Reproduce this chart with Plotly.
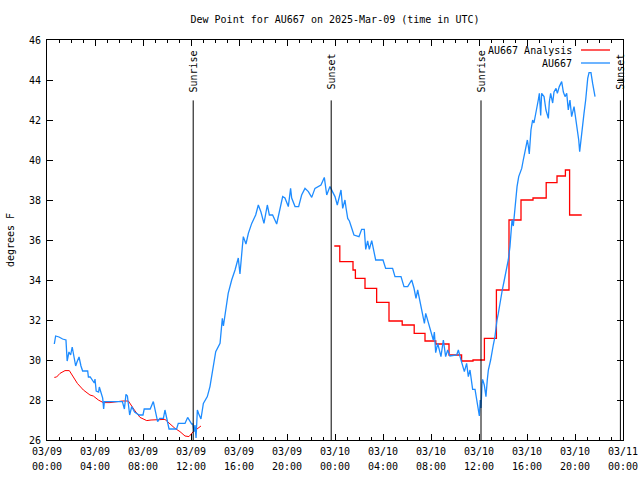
import plotly.graph_objects as go
from datetime import datetime, timedelta

BASE = datetime(2025, 3, 9)

# Observations (hours since 2025-03-09 00:00 UTC, dew point F)
obs_hours = [0.61, 0.72, 1.0, 1.3, 1.58, 1.68, 1.83, 1.97, 2.1, 2.39, 2.5, 2.67, 2.83, 2.97, 3.39, 3.45, 3.6,
             3.94, 4.0, 4.1, 4.3, 4.36, 4.64, 4.72, 4.78, 6.28, 6.45, 6.58, 6.7, 6.89, 7.06, 7.3, 7.67, 8.0,
             8.1, 8.6, 8.86, 9.22, 9.4, 9.7, 9.83, 10.06, 10.17, 10.8, 10.94, 11.5, 11.72, 12.06, 12.15,
             12.25, 12.33, 12.42, 12.53, 12.65, 12.83, 13.03, 13.36, 13.58, 13.78, 14.06, 14.42, 14.61, 14.7,
             14.92, 15.1, 15.39, 15.67, 15.94, 16.08, 16.28, 16.36, 16.58, 16.78, 17.06, 17.39, 17.61, 17.83,
             18.08, 18.36, 18.53, 18.8, 19.14, 19.36, 19.64, 19.83, 20.11, 20.3, 20.39, 20.67, 20.97, 21.22,
             21.5, 21.78, 22.06, 22.33, 22.61, 22.83, 23.11, 23.31, 23.58, 23.78, 24.0, 24.19, 24.42, 24.5,
             24.64, 24.83, 24.92, 25.06, 25.2, 25.39, 25.58, 26.0, 26.22, 26.44, 26.56, 26.72, 26.86, 27.06,
             27.19, 27.39, 28.0, 28.22, 28.8, 29.0, 29.5, 29.75, 30.06, 30.39, 30.58, 30.75, 30.89, 31.14,
             31.31, 31.45, 31.56, 31.78, 32.0, 32.19, 32.28, 32.39, 32.56, 32.83, 33.03, 33.22, 33.39, 33.58,
             34.14, 34.28, 34.42, 34.61, 34.78, 34.97, 35.11, 35.25, 35.33, 35.47, 35.67, 35.81, 35.94, 36.03,
             36.1, 36.17, 36.25, 36.3, 36.44, 36.58, 36.69, 36.78, 36.97, 37.08, 37.19, 37.33, 37.42, 37.5,
             37.61, 37.81, 37.94, 38.11, 38.31, 38.44, 38.58, 38.67, 38.75, 38.86, 38.94, 39.06, 39.17, 39.31,
             39.42, 39.56, 39.69, 39.89, 40.03, 40.11, 40.19, 40.33, 40.47, 40.58, 40.81, 40.94, 41.03, 41.14,
             41.22, 41.42, 41.58, 41.78, 41.86, 41.97, 42.14, 42.25, 42.42, 42.53, 42.69, 42.89, 43.03, 43.17,
             43.31, 43.44, 43.58, 43.72, 43.92, 44.08, 44.19, 44.31, 44.39, 44.47, 44.61, 44.75, 44.89, 44.97,
             45.06, 45.17, 45.33, 45.47, 45.58, 45.67]
obs_vals = [30.8, 31.2, 31.15, 31.05, 31.0, 29.95, 30.4, 30.25, 30.65, 29.7, 29.9, 30.15, 29.7, 29.45, 29.45, 29.15, 29.15,
            28.85, 29.05, 28.45, 28.4, 28.65, 28.1, 27.55, 27.92, 27.92, 27.55, 28.28, 28.2, 27.25, 27.67, 27.4, 27.25, 27.25,
            27.55, 27.55, 27.92, 26.92, 27.08, 27.08, 27.5, 26.83, 26.55, 26.55, 26.83, 26.83, 27.13, 26.8, 26.8,
            26.42, 26.75, 26.1, 27.5, 27.3, 27.05, 27.83, 28.17, 28.67, 29.5, 30.42, 30.83, 32.08, 31.7,
            32.67, 33.33, 34.0, 34.5, 35.1, 34.3, 35.67, 36.17, 35.8, 36.33, 36.83, 37.25, 37.75, 37.4,
            36.83, 37.75, 37.25, 37.25, 36.8, 37.4, 38.17, 38.1, 37.67, 38.58, 38.1, 37.67, 37.67, 38.25,
            38.58, 38.42, 38.13, 38.58, 38.7, 38.75, 39.13, 38.25, 38.67, 38.42, 38.17, 37.75, 38.25, 38.5,
            37.58, 38.0, 37.6, 37.08, 36.95, 36.58, 36.25, 36.17, 36.53, 36.53, 35.53, 35.95, 35.53, 35.97,
            35.5, 35.0, 35.0, 34.58, 34.58, 34.17, 34.17, 33.67, 33.67, 34.0, 33.6, 33.08, 33.5, 32.83,
            32.33, 31.83, 32.33, 31.83, 31.33, 31.0, 31.4, 30.37, 30.83, 30.17, 31.0, 30.17, 30.5, 30.2,
            30.25, 30.5, 30.17, 29.83, 29.42, 29.83, 29.17, 29.5, 29.2, 28.53, 28.53, 28.0, 27.58, 27.2,
            28.0, 27.6, 28.8, 29.03, 28.75, 28.17, 29.0, 29.5, 30.0, 30.3, 30.75, 31.17, 31.75, 32.0,
            32.33, 33.17, 33.5, 34.0, 34.58, 35.0, 35.67, 36.5, 37.0, 36.7, 37.17, 38.17, 38.67, 39.17,
            39.4, 39.58, 40.0, 40.58, 41.0, 40.7, 40.3, 41.5, 42.0, 41.85, 42.5, 43.0, 43.33, 42.23,
            43.33, 43.17, 42.5, 42.08, 42.9, 43.33, 42.85, 43.4, 43.58, 43.33, 43.67, 43.92, 43.4, 43.17,
            43.33, 42.5, 43.0, 42.17, 42.67, 42.0, 41.42, 41.0, 40.42, 40.92, 41.67, 42.33, 43.0, 43.67,
            44.08, 44.37, 44.37, 43.83, 43.4, 43.17]

# Analysis, first segment (hours, F)
ana1_hours = [0.61, 0.8, 1.08, 1.5, 1.86, 2.19, 2.53, 3.03, 3.58, 3.86, 4.28, 4.69, 5.25, 6.28, 6.78, 7.28,
              7.75, 8.31, 8.67, 9.83, 10.17, 10.67, 11.08, 11.5, 11.83, 12.19, 12.5, 12.83]
ana1_vals = [29.13, 29.15, 29.33, 29.47, 29.47, 29.17, 28.83, 28.5, 28.25, 28.2, 28.0, 27.87, 27.87, 27.95, 27.95, 27.5,
             27.13, 26.97, 27.0, 27.03, 26.83, 26.58, 26.42, 26.2, 26.17, 26.42, 26.55, 26.7]

# Analysis, second segment (step start hours, F)
ana2_hours = [23.94, 24.4, 25.5, 25.7, 26.5, 27.47, 28.5, 29.6, 30.6, 31.5, 32.4, 33.5, 34.55, 35.5, 36.45,
              37.45, 38.5, 39.5, 40.5, 41.6, 42.5, 43.2, 43.55, 44.56]
ana2_vals = [35.7, 34.92, 34.5, 34.08, 33.58, 32.88, 31.95, 31.75, 31.33, 30.95, 30.8, 30.25, 29.95, 30.0, 31.08,
             33.5, 37.0, 38.0, 38.1, 38.87, 39.2, 39.5, 37.25, 37.25]

event_names = ["Sunrise", "Sunset", "Sunrise", "Sunset"]
event_times = ["2025-03-09 12:11", "2025-03-09 23:41", "2025-03-10 12:10", "2025-03-10 23:47"]

y_ticks = list(range(26, 47, 2))

FONT = "DejaVu Sans Mono"
BLUE = "#1e8cff"
RED = "#ff0000"


def to_dt(hours):
    return [BASE + timedelta(hours=h) for h in hours]


fig = go.Figure()
fig.add_trace(go.Scatter(x=to_dt(ana1_hours), y=ana1_vals, mode="lines",
                         line=dict(color=RED, width=1), name="AU667 Analysis", showlegend=False))
fig.add_trace(go.Scatter(x=to_dt(ana2_hours), y=ana2_vals, mode="lines", line_shape="hv",
                         line=dict(color=RED, width=1.3), name="AU667 Analysis", showlegend=False))
fig.add_trace(go.Scatter(x=to_dt(obs_hours), y=obs_vals, mode="lines",
                         line=dict(color=BLUE, width=1.3), name="AU667", showlegend=False))
# helper trace so the secondary (time-of-day) label axis is drawn
fig.add_trace(go.Scatter(x=[BASE], y=[None], xaxis="x2", mode="lines", showlegend=False, hoverinfo="skip"))

for name, t in zip(event_names, event_times):
    fig.add_shape(type="line", x0=t, x1=t, y0=26, y1=42.98, xref="x", yref="y",
                  line=dict(color="black", width=1))
    fig.add_annotation(x=t, y=44.43, xref="x", yref="y", text=name, textangle=-90,
                       showarrow=False, xanchor="center", yanchor="middle",
                       font=dict(family=FONT, size=10, color="black"))

# gnuplot-style key (text right, sample line at right)
PLOT_L, PLOT_R = 47, 623
legend_items = [("AU667 Analysis", RED), ("AU667", BLUE)]
for i, (label, col) in enumerate(legend_items):
    yy = 0.975 - i * 0.0325
    fig.add_annotation(x=(574 - PLOT_L) / (PLOT_R - PLOT_L), y=yy, xref="paper", yref="paper", text=label,
                       showarrow=False, xanchor="right", yanchor="middle",
                       font=dict(family=FONT, size=10, color="black"))
    fig.add_shape(type="line", x0=(581 - PLOT_L) / (PLOT_R - PLOT_L), x1=(610 - PLOT_L) / (PLOT_R - PLOT_L),
                  y0=yy, y1=yy, xref="paper", yref="paper", line=dict(color=col, width=1.3))

xr = ["2025-03-09 00:00", "2025-03-11 00:00"]
fig.update_layout(
    width=640, height=480,
    margin=dict(l=PLOT_L, r=640 - PLOT_R, t=40, b=40),
    paper_bgcolor="white", plot_bgcolor="white",
    font=dict(family=FONT, size=10, color="black"),
    title=dict(text="Dew Point for AU667 on 2025-Mar-09 (time in UTC)", x=0.5, xref="paper",
               y=1 - 19 / 480, yref="container", yanchor="middle", xanchor="center",
               font=dict(family=FONT, size=10, color="black")),
    showlegend=False,
    xaxis=dict(type="date", range=xr, tick0="2025-03-09 00:00", dtick=4 * 3600000,
               tickformat="%m/%d", ticks="inside", ticklen=6, tickcolor="black",
               showline=True, linecolor="black", linewidth=1, mirror="ticks",
               showgrid=False, zeroline=False, ticklabelstandoff=2, automargin=False,
               minor=dict(dtick=3600000, ticks="inside", ticklen=3, tickcolor="black", showgrid=False),
               tickfont=dict(family=FONT, size=10, color="black")),
    xaxis2=dict(type="date", range=xr, overlaying="x", matches="x", anchor="y", side="bottom",
                tick0="2025-03-09 00:00", dtick=4 * 3600000, tickformat="%H:%M", automargin=False,
                ticks="", showline=False, showgrid=False, zeroline=False, ticklabelstandoff=19,
                tickfont=dict(family=FONT, size=10, color="black")),
    yaxis=dict(range=[26, 46], tickvals=y_ticks, ticks="inside", ticklen=6, tickcolor="black",
               showline=True, linecolor="black", linewidth=1, mirror="ticks",
               showgrid=False, zeroline=False, ticklabelstandoff=3, automargin=False,
               tickfont=dict(family=FONT, size=10, color="black"),
               title=dict(text="degrees F", standoff=12, font=dict(family=FONT, size=10, color="black"))),
)

fig.write_html("out.html", config={"displayModeBar": False},
               post_script="document.body.style.margin='0';document.body.style.padding='0';")
